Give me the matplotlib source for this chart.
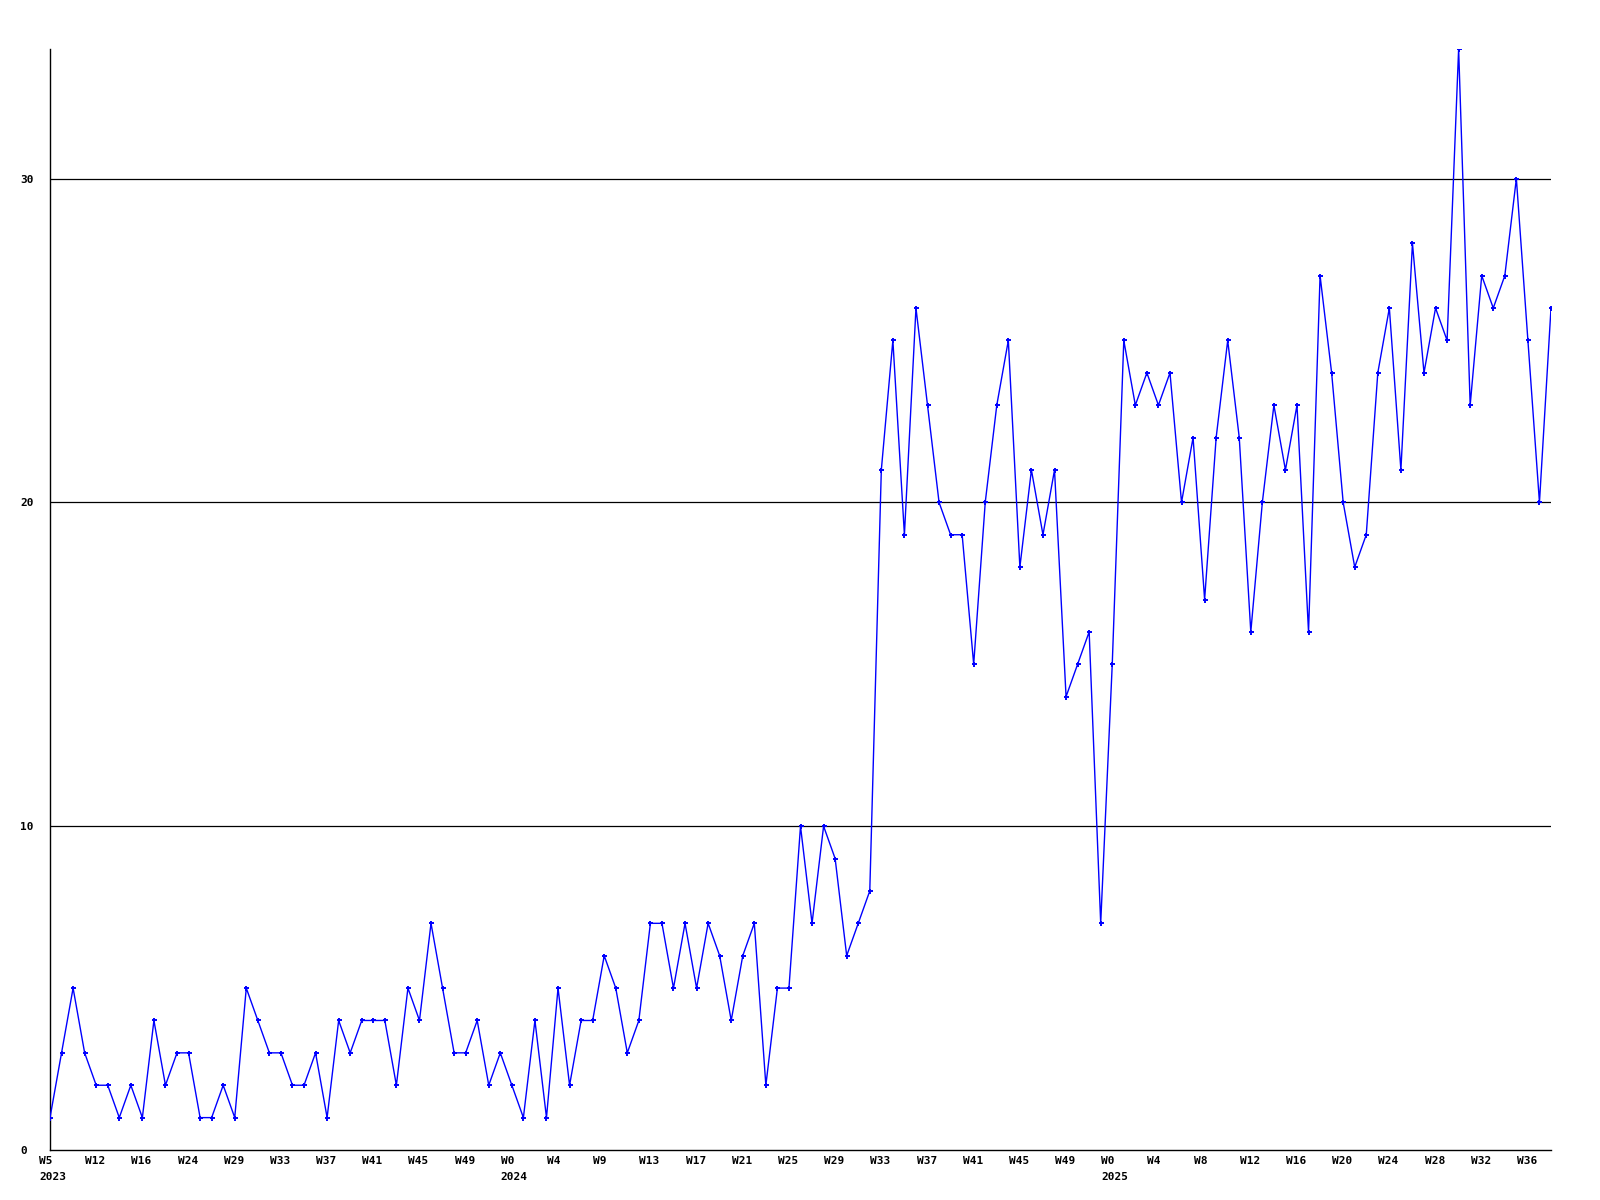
import numpy as np
import matplotlib
matplotlib.use("Agg")
import matplotlib.pyplot as plt
import matplotlib.transforms as mtransforms

# weekly counts, 2023 W5 .. 2025 W38
counts = [
    1, 3, 5, 3, 2, 2, 1, 2, 1, 4,
    2, 3, 3, 1, 1, 2, 1, 5, 4, 3,
    3, 2, 2, 3, 1, 4, 3, 4, 4, 4,
    2, 5, 4, 7, 5, 3, 3, 4, 2, 3,
    2, 1, 4, 1, 5, 2, 4, 4, 6, 5,
    3, 4, 7, 7, 5, 7, 5, 7, 6, 4,
    6, 7, 2, 5, 5, 10, 7, 10, 9, 6,
    7, 8, 21, 25, 19, 26, 23, 20, 19, 19,
    15, 20, 23, 25, 18, 21, 19, 21, 14, 15,
    16, 7, 15, 25, 23, 24, 23, 24, 20, 22,
    17, 22, 25, 22, 16, 20, 23, 21, 23, 16,
    27, 24, 20, 18, 19, 24, 26, 21, 28, 24,
    26, 25, 34, 23, 27, 26, 27, 30, 25, 20,
    26,
]

# every 4th point gets a label
week_labels = [
    "W5\n2023", "W12", "W16", "W24", "W29", "W33", "W37", "W41", "W45", "W49",
    "W0\n2024", "W4", "W9", "W13", "W17", "W21", "W25", "W29", "W33", "W37",
    "W41", "W45", "W49", "W0\n2025", "W4", "W8", "W12", "W16", "W20", "W24",
    "W28", "W32", "W36",
]
y_ticks = [0, 10, 20, 30]

x = np.arange(len(counts))

fig = plt.figure(figsize=(16, 12), dpi=100)
ax = fig.add_axes([50 / 1600, 50 / 1200, 1501 / 1600, 1101 / 1200])

for v in y_ticks[1:]:
    ax.axhline(v, color="black", lw=0.9, zorder=1)

ax.plot(x, counts, color="#0000ff", lw=1.0, marker="+", markersize=3.6,
        markeredgewidth=1.4, zorder=3)

ax.set_xlim(0, len(counts) - 1)
ax.set_ylim(0, max(counts))

for side in ["top", "right"]:
    ax.spines[side].set_visible(False)
for side in ["left", "bottom"]:
    ax.spines[side].set_color("black")
    ax.spines[side].set_linewidth(1.0)

font = dict(family="DejaVu Sans Mono", weight="bold", size=8)

ax.set_xticks(x[::4])
ax.set_xticklabels(week_labels, ha="left", va="top", linespacing=1.75,
                   multialignment="left", **font)
ax.set_yticks(y_ticks)
ax.set_yticklabels([str(v) for v in y_ticks], ha="left", **font)
ax.tick_params(axis="both", length=0)
ax.tick_params(axis="x", pad=4)
ax.tick_params(axis="y", pad=21.6)

shift = mtransforms.ScaledTranslation(-11 / 100, 0, fig.dpi_scale_trans)
for lab in ax.get_xticklabels():
    lab.set_transform(lab.get_transform() + shift)

fig.savefig("out.png", dpi=100, facecolor="white")
